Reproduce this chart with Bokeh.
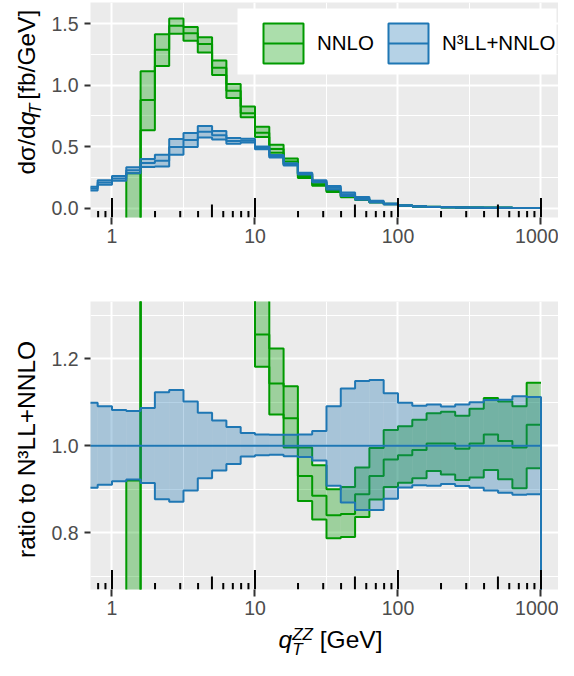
import math
from bokeh.plotting import figure
from bokeh.models import (Range1d, FixedTicker, PrintfTickFormatter, Legend, LegendItem,
                          Label, BoxAnnotation)
from bokeh.layouts import column, row
from bokeh.embed import file_html
from bokeh.resources import INLINE

# ---------------- data ----------------
bin_edges = [0.631, 0.794, 1.0, 1.259, 1.585, 1.995, 2.512, 3.162, 3.981, 5.012, 6.310, 7.943,
             10.0, 12.59, 15.85, 19.95, 25.12, 31.62, 39.81, 50.12, 63.10, 79.43,
             100.0, 125.9, 158.5, 199.5, 251.2, 316.2, 398.1, 501.2, 631.0, 794.3, 1000.0]

# N3LL+NNLO central value [fb/GeV]
n3ll_central = [0.158, 0.207, 0.241, 0.307, 0.366, 0.385, 0.497, 0.553, 0.620, 0.591, 0.545, 0.547,
                0.488, 0.420, 0.355, 0.280, 0.218, 0.165, 0.112, 0.078, 0.052, 0.033,
                0.020, 0.013, 0.0090, 0.0062, 0.0045, 0.0032, 0.0023, 0.0016, 0.0011, 0.0008]
# N3LL+NNLO scale band relative to its central value
n3ll_ratio_up = [1.099, 1.091, 1.082, 1.080, 1.087, 1.123, 1.128, 1.102, 1.076, 1.058, 1.043, 1.029,
                 1.026, 1.025, 1.025, 1.026, 1.034, 1.091, 1.132, 1.149, 1.151, 1.121,
                 1.099, 1.092, 1.095, 1.090, 1.095, 1.100, 1.105, 1.106, 1.114, 1.112]
n3ll_ratio_lo = [0.903, 0.910, 0.918, 0.922, 0.914, 0.877, 0.871, 0.897, 0.925, 0.943, 0.958, 0.975,
                 0.978, 0.979, 0.976, 0.974, 0.966, 0.908, 0.869, 0.852, 0.852, 0.878,
                 0.904, 0.909, 0.908, 0.912, 0.907, 0.903, 0.897, 0.892, 0.887, 0.888]
# NNLO relative to N3LL+NNLO central value
nnlo_ratio_central = [-3.0, -3.0, -3.0, -1.5, 2.40, 3.34, 2.98, 2.57, 2.15, 1.93, 1.75, 1.41,
                      1.256, 1.143, 1.063, 0.930, 0.885, 0.840, 0.843, 0.888, 0.930, 0.968,
                      0.978, 0.990, 1.005, 1.005, 0.993, 1.005, 1.026, 1.011, 0.996, 1.048]
nnlo_ratio_up = [-2.0, -2.0, -2.0, 0.92, 3.04, 3.67, 3.10, 2.66, 2.24, 2.03, 1.85, 1.51,
                 1.355, 1.224, 1.137, 0.996, 0.955, 0.900, 0.905, 0.950, 0.995, 1.036,
                 1.045, 1.060, 1.075, 1.078, 1.069, 1.085, 1.110, 1.102, 1.091, 1.145]
nnlo_ratio_lo = [-4.0, -4.0, -4.0, -3.0, 1.73, 3.00, 2.85, 2.46, 2.04, 1.83, 1.64, 1.35,
                 1.182, 1.072, 0.996, 0.873, 0.830, 0.787, 0.790, 0.836, 0.876, 0.905,
                 0.915, 0.925, 0.942, 0.934, 0.921, 0.927, 0.944, 0.923, 0.902, 0.948]

x_major = [1, 10, 100, 1000]
x_minor = [3.162, 31.62, 316.2]
top_y_major = [0.0, 0.5, 1.0, 1.5]
top_y_minor = [0.25, 0.75, 1.25]
bot_y_major = [0.8, 1.0, 1.2]
bot_y_minor = [0.7, 0.9, 1.1, 1.3]
logtick_long = [1, 10, 100, 1000]
logtick_mid = [5, 50, 500]
logtick_short = [0.8, 0.9, 2, 3, 4, 6, 7, 8, 9, 20, 30, 40, 60, 70, 80, 90,
                 200, 300, 400, 600, 700, 800, 900]

# ---------------- style ----------------
GREEN = "#009A00"
BLUE = "#1F77B4"
ALPHA = 0.33
FONT = "Liberation Sans"
TICK_PX = "19.5px"
TITLE = 24.5
SUB = 17.0
BL = 0.39          # Bokeh places the alphabetic baseline ~0.39 em past the anchor

left = bin_edges[:-1]
right = bin_edges[1:]

n3ll_top_up = [c * r for c, r in zip(n3ll_central, n3ll_ratio_up)]
n3ll_top_lo = [c * r for c, r in zip(n3ll_central, n3ll_ratio_lo)]
nnlo_top_c = [c * r for c, r in zip(n3ll_central, nnlo_ratio_central)]
nnlo_top_up = [c * r for c, r in zip(n3ll_central, nnlo_ratio_up)]
nnlo_top_lo = [c * r for c, r in zip(n3ll_central, nnlo_ratio_lo)]
n3ll_ratio_c = [c / c for c in n3ll_central]

x_range = Range1d(0.7075, 1326.0)


def style(p, y_major, y_minor, frame_h):
    p.background_fill_color = "#EBEBEB"
    p.border_fill_color = "white"
    p.outline_line_color = None
    xt = FixedTicker(ticks=x_major, minor_ticks=x_minor)
    yt = FixedTicker(ticks=y_major, minor_ticks=y_minor)
    p.xaxis[0].ticker = xt
    p.xgrid[0].ticker = xt
    p.yaxis[0].ticker = yt
    p.ygrid[0].ticker = yt
    p.xaxis[0].formatter = PrintfTickFormatter(format="%d")
    p.yaxis[0].formatter = PrintfTickFormatter(format="%.1f")
    for g in (p.xgrid[0], p.ygrid[0]):
        g.grid_line_color = "white"
        g.grid_line_width = 2
        g.minor_grid_line_color = "white"
        g.minor_grid_line_width = 1
    for ax in (p.xaxis[0], p.yaxis[0]):
        ax.axis_line_color = None
        ax.major_tick_line_color = "#333333"
        ax.major_tick_line_width = 2
        ax.major_tick_in = 0
        ax.minor_tick_in = 0
        ax.minor_tick_out = 0
        ax.major_label_text_font = FONT
        ax.major_label_text_font_size = TICK_PX
        ax.major_label_text_color = "#4D4D4D"
    p.xaxis[0].major_tick_out = 7
    p.xaxis[0].major_label_standoff = 4
    p.yaxis[0].major_tick_out = 6
    p.yaxis[0].major_label_standoff = 6
    # log ticks inside the panel
    p.extra_y_ranges = {"frac": Range1d(0, 1)}
    for xs, length in ((logtick_short, 6.5), (logtick_mid, 13.0), (logtick_long, 19.5)):
        p.segment(x0=xs, x1=xs, y0=[0] * len(xs), y1=[length / frame_h] * len(xs),
                  y_range_name="frac", line_color="black", line_width=2)


def draw_series(p, up, lo, c, color, drop):
    p.quad(left=left, right=right, top=up, bottom=lo, fill_color=color,
           fill_alpha=ALPHA, line_color=None)
    for vals in (up, c, lo):
        ys = list(vals) + ([0.0] if drop else [vals[-1]])
        p.step(x=bin_edges, y=ys, mode="after", line_color=color, line_width=2)


def title_fig(w, h):
    f = figure(width=w, height=h, x_range=Range1d(0, w), y_range=Range1d(0, h),
               x_axis_type=None, y_axis_type=None, output_backend="svg",
               toolbar_location=None, title=None, min_border=0)
    f.min_border_left = f.min_border_right = f.min_border_top = f.min_border_bottom = 0
    f.outline_line_color = None
    f.background_fill_color = "white"
    f.border_fill_color = "white"
    return f


def lab(p, text, x, y, size, italic=False, align="left", angle=0.0):
    p.add_layout(Label(x=x, y=y, text=text, angle=angle, text_font=FONT,
                       text_font_size=f"{size}px",
                       text_font_style="italic" if italic else "normal",
                       text_align=align, text_baseline="alphabetic", text_color="black"))


TW = 46            # width of the y-title strip
W = 558 - TW
H1, FH1, TOP1 = 258, 215, 2
H2, FH2, TOP2 = 366, 288, 43
H3 = 660 - H1 - H2

# ---------------- top panel ----------------
p1 = figure(width=W, height=H1, x_axis_type="log", x_range=x_range,
            y_range=Range1d(-0.077, 1.671), output_backend="svg", toolbar_location=None,
            title=None, min_border_left=44, min_border_right=0, min_border_top=TOP1,
            min_border_bottom=H1 - FH1 - TOP1)
draw_series(p1, nnlo_top_up, nnlo_top_lo, nnlo_top_c, GREEN, False)
draw_series(p1, n3ll_top_up, n3ll_top_lo, n3ll_central, BLUE, True)
style(p1, top_y_major, top_y_minor, FH1)

# legend background and legend (proxy glyphs lie below the visible y range)
p1.add_layout(BoxAnnotation(left=147, right=466, top=FH1 - 6, bottom=FH1 - 72,
                            left_units="screen", right_units="screen",
                            top_units="screen", bottom_units="screen",
                            fill_color="white", fill_alpha=1.0, line_color=None))
lg_gb = p1.quad(left=left[:1], right=right[:1], top=[-1.0], bottom=[-2.0], fill_color=GREEN,
                fill_alpha=ALPHA, line_color=GREEN, line_width=2)
lg_gl = p1.line(x=bin_edges[:2], y=[-2.0, -2.0], line_color=GREEN, line_width=2,
                line_dash="0 5 40 100")
lg_bb = p1.quad(left=left[:1], right=right[:1], top=[-1.0], bottom=[-2.0], fill_color=BLUE,
                fill_alpha=ALPHA, line_color=BLUE, line_width=2)
lg_bl = p1.line(x=bin_edges[:2], y=[-2.0, -2.0], line_color=BLUE, line_width=2,
                line_dash="0 5 40 100")
legend = Legend(items=[LegendItem(label="NNLO", renderers=[lg_gb, lg_gl]),
                       LegendItem(label="N³LL+NNLO", renderers=[lg_bb, lg_bl])],
                orientation="horizontal", location=(168, FH1 - 16 - 50),
                glyph_width=50, glyph_height=50, label_standoff=9, spacing=9,
                padding=0, margin=0, label_text_font=FONT, label_text_font_size="20.5px",
                label_text_color="black", background_fill_alpha=0.0, border_line_color=None)
p1.add_layout(legend)

# ---------------- bottom panel ----------------
p2 = figure(width=W, height=H2, x_axis_type="log", x_range=x_range,
            y_range=Range1d(0.669, 1.332), output_backend="svg", toolbar_location=None,
            title=None, min_border_left=44, min_border_right=0, min_border_top=TOP2,
            min_border_bottom=H2 - FH2 - TOP2)
draw_series(p2, nnlo_ratio_up, nnlo_ratio_lo, nnlo_ratio_central, GREEN, False)
draw_series(p2, n3ll_ratio_up, n3ll_ratio_lo, n3ll_ratio_c, BLUE, True)
style(p2, bot_y_major, bot_y_minor, FH2)

# ---------------- axis titles ----------------
ang = math.pi / 2
BASE_X = 36.0                         # wanted baseline column of the vertical titles
XM = BASE_X - BL * TITLE              # anchor for the main text
XS = BASE_X + 6.0 - BL * SUB          # anchor for the subscript
SP = 0.278 * TITLE                    # width of a space

t1 = title_fig(TW, H1)
Y = 110.6
lab(t1, "dσ/d", XM, Y, TITLE, align="right", angle=ang)
lab(t1, "q", XM, Y, TITLE, italic=True, angle=ang)
lab(t1, "T", XS, Y + 13.6, SUB, italic=True, angle=ang)
lab(t1, "[fb/GeV]", XM, Y + 13.6 + 10.4 + SP, TITLE, angle=ang)

t2 = title_fig(TW, H2)
lab(t2, "ratio to N³LL+NNLO", XM, 178, TITLE, align="center", angle=ang)

t3 = title_fig(558, H3)
A = 291.7
B = 11.0                               # wanted baseline height of the x title
lab(t3, "q", A, B + BL * TITLE, TITLE, italic=True, align="right")
lab(t3, "ZZ", A, B + 8.0 + BL * SUB, SUB, italic=True)
lab(t3, "T", A, B - 7.0 + BL * SUB, SUB, italic=True)
lab(t3, "[GeV]", A + 20.8 + SP, B + BL * TITLE, TITLE)

layout = column(row(t1, p1), row(t2, p2), t3)
open("out.html", "w").write(file_html(layout, INLINE))
